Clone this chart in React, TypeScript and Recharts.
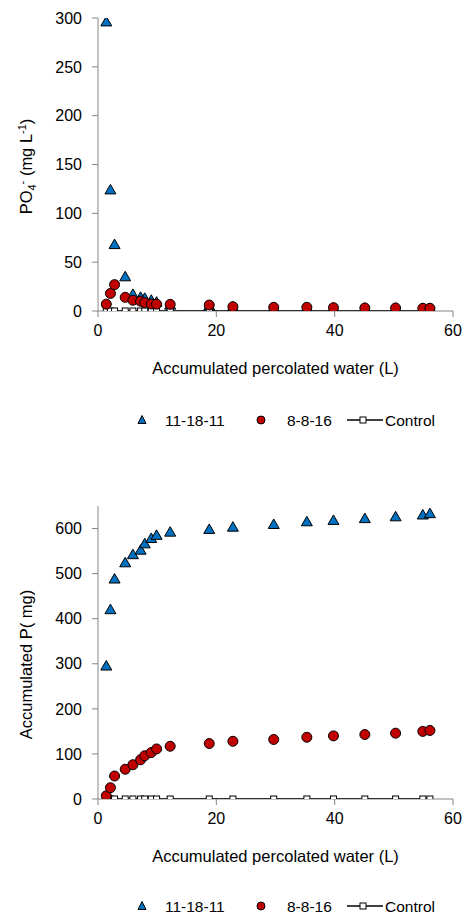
import React from 'react';
import { ScatterChart, Scatter, XAxis, YAxis, Label } from 'recharts';

// accumulated percolated water (L), shared by every series
const water = [1.4, 2.1, 2.8, 4.6, 5.9, 7.2, 7.9, 9.0, 9.9, 12.2, 18.8, 22.8, 29.7, 35.3, 39.8, 45.1, 50.3, 54.9, 56.1];

// PO4- concentration (mg L-1)
const po4A = [296, 124, 68, 35, 17, 14, 13, 11, 9, 6, 5, 4, 3.5, 3, 3, 2.8, 2.8, 2.6, 2.6];
const po4B = [7, 18, 27, 14, 11, 10, 8.5, 7.2, 7, 6.8, 6.1, 4.4, 3.8, 3.8, 3.4, 3.1, 3.1, 2.8, 2.8];
const po4C = [0, 0, 0, 0, 0, 0, 0, 0, 0, 0, 0, 0, 0, 0, 0, 0, 0, 0, 0];

// accumulated P (mg)
const accA = [295, 420, 488, 524, 542, 552, 566, 578, 585, 592, 598, 603, 609, 615, 618, 622, 626, 630, 633];
const accB = [7, 25, 51, 66, 76, 87, 96, 103, 111, 117, 123, 128, 132, 137, 140, 143, 146, 150, 152];
const accC = [0, 0, 0, 0, 0, 0, 0, 0, 0, 0, 0, 0, 0, 0, 0, 0, 0, 0, 0];

const xTicks = [0, 20, 40, 60];
const po4Ticks = [0, 50, 100, 150, 200, 250, 300];
const accTicks = [0, 100, 200, 300, 400, 500, 600];

const seriesNames = ['11-18-11', '8-8-16', 'Control'];

const FONT = '"Liberation Sans", Arial, sans-serif';
const AXIS = '#868686';

const toPoints = (ys: number[]) => water.map((x, i) => ({ x, y: ys[i] }));

const Tri = (p: any) => {
  const { cx, cy } = p;
  if (cx == null || cy == null) return null;
  return (
    <polygon
      points={`${cx},${cy - 5.5} ${cx + 5.5},${cy + 4} ${cx - 5.5},${cy + 4}`}
      fill="#0070C0"
      stroke="#000"
      strokeWidth={1}
    />
  );
};

const Dot = (p: any) => {
  const { cx, cy } = p;
  if (cx == null || cy == null) return null;
  return <circle cx={cx} cy={cy} r={5} fill="#C00000" stroke="#000" strokeWidth={1} />;
};

const Sq = (p: any) => {
  const { cx, cy } = p;
  if (cx == null || cy == null) return null;
  return <rect x={cx - 3} y={cy - 3} width={6} height={6} fill="#fff" stroke="#000" strokeWidth={1} />;
};

const XTitle = ({ viewBox }: any) => (
  <text
    x={viewBox.x + viewBox.width / 2}
    y={viewBox.y + 63}
    textAnchor="middle"
    fontSize={16.5}
    fontFamily={FONT}
    fill="#000"
  >
    Accumulated percolated water (L)
  </text>
);

const Po4Title = ({ viewBox }: any) => {
  const x = 24;
  const y = viewBox.y + viewBox.height / 2 + 2;
  return (
    <text
      x={x}
      y={y}
      transform={`rotate(-90, ${x}, ${y})`}
      textAnchor="middle"
      fontSize={16.5}
      fontFamily={FONT}
      fill="#000"
    >
      PO
      <tspan fontSize={11} dy={4}>4</tspan>
      <tspan fontSize={11} dy={-10}>-</tspan>
      <tspan dy={6}>{'  (mg L'}</tspan>
      <tspan fontSize={11} dy={-6}>-1</tspan>
      <tspan dy={6}>)</tspan>
    </text>
  );
};

const AccTitle = ({ viewBox }: any) => {
  const x = 24;
  const y = viewBox.y + viewBox.height / 2 + 12;
  return (
    <text
      x={x}
      y={y}
      transform={`rotate(-90, ${x}, ${y})`}
      textAnchor="middle"
      fontSize={16.5}
      fontFamily={FONT}
      fill="#000"
    >
      Accumulated P( mg)
    </text>
  );
};

// legend drawn in a one-pixel strip; y is the centre line of the row
const LegendRow = ({ y }: { y: number }) => (
  <svg
    width={440}
    height={1}
    style={{ position: 'absolute', left: 0, top: y, overflow: 'visible' }}
  >
    <polygon points="134,-4.5 138,3.5 130,3.5" fill="#0070C0" stroke="#000" strokeWidth={1} />
    <text x={157} y={5.5} fontSize={15.5} fontFamily={FONT} fill="#000">{seriesNames[0]}</text>
    <circle cx={253} cy={0} r={4} fill="#C00000" stroke="#000" strokeWidth={1} />
    <text x={279} y={5.5} fontSize={15.5} fontFamily={FONT} fill="#000">{seriesNames[1]}</text>
    <line x1={339} y1={0} x2={375} y2={0} stroke="#000" strokeWidth={1.5} />
    <rect x={352} y={-3} width={6} height={6} fill="#fff" stroke="#000" strokeWidth={1} />
    <text x={377} y={5.5} fontSize={15.5} fontFamily={FONT} fill="#000">{seriesNames[2]}</text>
  </svg>
);

const tickStyle = { fontSize: 16, fontFamily: FONT, fill: '#000' };

const Panel = ({
  height,
  top,
  domain,
  yTicks,
  data,
  title,
  legendY,
}: {
  height: number;
  top: number;
  domain: [number, number];
  yTicks: number[];
  data: number[][];
  title: any;
  legendY: number;
}) => (
  <div style={{ position: 'relative', width: 456, height }}>
    <ScatterChart
      width={456}
      height={height}
      margin={{ top, right: 11, bottom: height - top - 293 - 30, left: 0 }}
    >
      <XAxis
        type="number"
        dataKey="x"
        domain={[0, 60]}
        ticks={xTicks}
        height={30}
        tickSize={6}
        tickMargin={8}
        tick={tickStyle}
        stroke={AXIS}
        allowDataOverflow
      >
        <Label content={XTitle} />
      </XAxis>
      <YAxis
        type="number"
        dataKey="y"
        domain={domain}
        ticks={yTicks}
        width={90}
        tickSize={6}
        tickMargin={10}
        tick={tickStyle}
        stroke={AXIS}
        allowDataOverflow
      >
        <Label content={title} />
      </YAxis>
      <Scatter name={seriesNames[0]} data={toPoints(data[0])} shape={Tri} isAnimationActive={false} />
      <Scatter
        name={seriesNames[2]}
        data={toPoints(data[2])}
        shape={Sq}
        line={{ stroke: '#000', strokeWidth: 1.5 }}
        isAnimationActive={false}
      />
      <Scatter name={seriesNames[1]} data={toPoints(data[1])} shape={Dot} isAnimationActive={false} />
    </ScatterChart>
    <LegendRow y={legendY} />
  </div>
);

export default function App() {
  return (
    <div
      style={{
        width: 464,
        height: 914,
        padding: '8px 0 0 8px',
        boxSizing: 'border-box',
        overflow: 'hidden',
        background: '#fff',
        fontFamily: FONT,
      }}
    >
      <style>{'html, body { margin: 0; overflow: hidden; }'}</style>
      <Panel
        height={440}
        top={10}
        domain={[0, 300]}
        yTicks={po4Ticks}
        data={[po4A, po4B, po4C]}
        title={Po4Title}
        legendY={412}
      />
      <Panel
        height={466}
        top={58}
        domain={[0, 650]}
        yTicks={accTicks}
        data={[accA, accB, accC]}
        title={AccTitle}
        legendY={458}
      />
    </div>
  );
}
